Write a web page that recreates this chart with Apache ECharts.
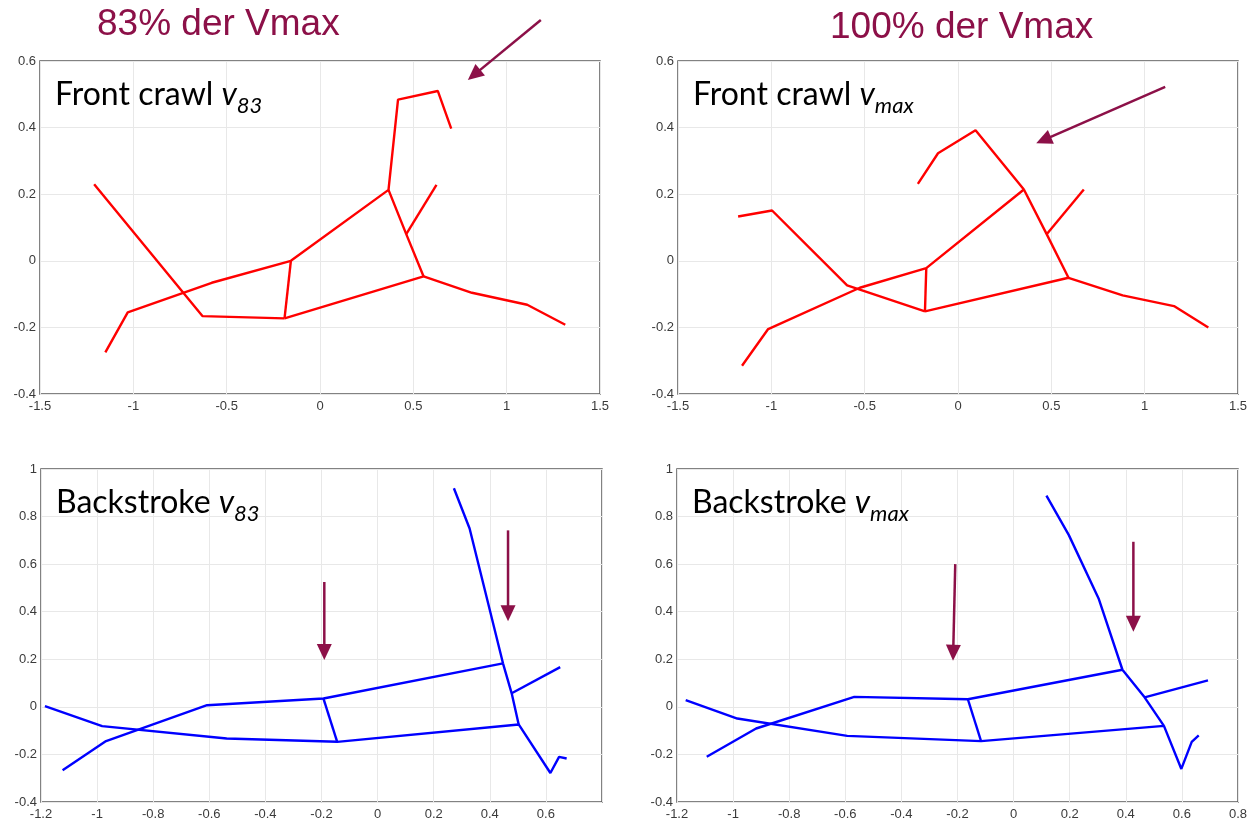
<!DOCTYPE html>
<html><head><meta charset="utf-8">
<script src="https://cdn.jsdelivr.net/npm/echarts@6/dist/echarts.min.js"></script>
<style>html,body{margin:0;padding:0;background:#fff}#c{width:1251px;height:827px}</style>
</head><body><div id="c"></div>
<script>
// ---- text ----
const headings = ['83% der Vmax', '100% der Vmax'];
const panelNames = [['Front crawl ', 'v', '83'], ['Front crawl ', 'v', 'max'], ['Backstroke ', 'v', '83'], ['Backstroke ', 'v', 'max']];

// ---- axis ranges [min, max, interval] ----
const frontX = [-1.5, 1.5, 0.5];
const frontY = [-0.4, 0.6, 0.2];
const backX = [-1.2, 0.8, 0.2];
const backY = [-0.4, 1.0, 0.2];

// ---- stick-figure polylines [x, y] ----
const frontCrawlV83 = [
  [[-1.21, 0.23], [-0.63, -0.166], [-0.19, -0.173]],
  [[-1.15, -0.275], [-1.03, -0.155], [-0.58, -0.066], [-0.156, 0.0], [0.367, 0.213], [0.418, 0.484], [0.631, 0.51], [0.703, 0.397]],
  [[-0.156, 0.0], [-0.19, -0.173]],
  [[-0.19, -0.173], [0.555, -0.047], [0.814, -0.096], [1.11, -0.132], [1.314, -0.192]],
  [[0.367, 0.213], [0.462, 0.08], [0.555, -0.047]],
  [[0.462, 0.08], [0.624, 0.228]]
];
const frontCrawlVmax = [
  [[-1.178, 0.133], [-0.996, 0.151], [-0.594, -0.074], [-0.177, -0.152]],
  [[-1.157, -0.315], [-1.017, -0.205], [-0.526, -0.081], [-0.17, -0.022], [0.353, 0.214], [0.094, 0.392], [-0.107, 0.323], [-0.215, 0.231]],
  [[-0.17, -0.022], [-0.177, -0.152]],
  [[-0.177, -0.152], [0.592, -0.051], [0.882, -0.104], [1.157, -0.136], [1.341, -0.2]],
  [[0.353, 0.214], [0.475, 0.08], [0.592, -0.051]],
  [[0.475, 0.08], [0.674, 0.214]]
];
const backstrokeV83 = [
  [[-1.186, 0.003], [-0.982, -0.081], [-0.538, -0.133], [-0.144, -0.147], [0.503, -0.074], [0.616, -0.278], [0.647, -0.21], [0.674, -0.217]],
  [[-1.123, -0.266], [-0.968, -0.144], [-0.608, 0.007], [-0.193, 0.035], [0.447, 0.183]],
  [[0.272, 0.919], [0.328, 0.75], [0.447, 0.183], [0.478, 0.057], [0.503, -0.074]],
  [[0.478, 0.057], [0.651, 0.167]],
  [[-0.193, 0.035], [-0.144, -0.147]]
];
const backstrokeVmax = [
  [[-1.169, 0.028], [-0.985, -0.049], [-0.593, -0.122], [-0.116, -0.144], [0.536, -0.08], [0.598, -0.261], [0.635, -0.147], [0.66, -0.12]],
  [[-1.094, -0.21], [-0.918, -0.091], [-0.568, 0.042], [-0.163, 0.032], [0.388, 0.156]],
  [[0.117, 0.888], [0.197, 0.722], [0.303, 0.456], [0.388, 0.156], [0.467, 0.04], [0.536, -0.08]],
  [[0.467, 0.04], [0.693, 0.111]],
  [[-0.163, 0.032], [-0.116, -0.144]]
];

// ---- annotation arrows [start, tip] in data units ----
const arrowsFrontV83 = [[[1.183, 0.723], [0.792, 0.543]]];
const arrowsFrontVmax = [[[1.11, 0.522], [0.419, 0.353]]];
const arrowsBackV83 = [[[-0.19, 0.525], [-0.19, 0.197]], [[0.465, 0.742], [0.465, 0.36]]];
const arrowsBackVmax = [[[-0.208, 0.6], [-0.216, 0.194]], [[0.427, 0.694], [0.427, 0.316]]];

const MAGENTA = '#8c1048';
const panels = [
  { lines: frontCrawlV83, color: '#ff0000', x: frontX, y: frontY, arrows: arrowsFrontV83, grid: { left: 40, top: 61, width: 560, height: 333 }, hideMax: false },
  { lines: frontCrawlVmax, color: '#ff0000', x: frontX, y: frontY, arrows: arrowsFrontVmax, grid: { left: 678, top: 61, width: 560, height: 333 }, hideMax: false },
  { lines: backstrokeV83, color: '#0000ff', x: backX, y: backY, arrows: arrowsBackV83, grid: { left: 41, top: 469, width: 561, height: 333 }, hideMax: true },
  { lines: backstrokeVmax, color: '#0000ff', x: backX, y: backY, arrows: arrowsBackVmax, grid: { left: 677, top: 469, width: 561, height: 333 }, hideMax: false }
];

const chart = echarts.init(document.getElementById('c'), null, { renderer: 'canvas' });
const labelStyle = { color: '#3a3a3a', fontSize: 13, fontFamily: 'Liberation Sans, Arial, sans-serif' };
const grids = [], xAxes = [], yAxes = [], series = [];
const firstSeries = [];
panels.forEach((p, i) => {
  grids.push(Object.assign({ show: true, borderColor: '#5a5a5a', borderWidth: 1.5, backgroundColor: '#fff' }, p.grid));
  xAxes.push({
    type: 'value', gridIndex: i, min: p.x[0], max: p.x[1], interval: p.x[2],
    axisLine: { show: false }, axisTick: { show: false },
    splitLine: { show: true, lineStyle: { color: '#e8e8e8', width: 1 } },
    axisLabel: Object.assign({ margin: 6, showMaxLabel: !p.hideMax, showMinLabel: true }, labelStyle)
  });
  yAxes.push({
    type: 'value', gridIndex: i, min: p.y[0], max: p.y[1], interval: p.y[2],
    axisLine: { show: false }, axisTick: { show: false },
    splitLine: { show: true, lineStyle: { color: '#e8e8e8', width: 1 } },
    axisLabel: Object.assign({ margin: 4, showMaxLabel: true, showMinLabel: true }, labelStyle)
  });
  firstSeries.push(series.length);
  p.lines.forEach(line => {
    series.push({
      type: 'line', xAxisIndex: i, yAxisIndex: i, data: line,
      showSymbol: false, symbol: 'none', silent: true, clip: false,
      lineStyle: { color: p.color, width: 2.4 }, itemStyle: { color: p.color }
    });
  });
});

chart.setOption({
  animation: false,
  backgroundColor: '#fff',
  grid: grids, xAxis: xAxes, yAxis: yAxes, series: series
});

function arrowEls(p0, p1) {
  const dx = p1[0] - p0[0], dy = p1[1] - p0[1];
  const L = Math.hypot(dx, dy), ux = dx / L, uy = dy / L;
  const headLen = 16, headW = 7.5;
  const bx = p1[0] - ux * headLen, by = p1[1] - uy * headLen;
  return [
    { type: 'line', silent: true, shape: { x1: p0[0], y1: p0[1], x2: bx + ux * 2, y2: by + uy * 2 }, style: { stroke: MAGENTA, lineWidth: 2.5 } },
    { type: 'polygon', silent: true, shape: { points: [[p1[0], p1[1]], [bx - uy * headW, by + ux * headW], [bx + uy * headW, by - ux * headW]] }, style: { fill: MAGENTA } }
  ];
}

const graphics = [];
// headings
const headingPos = [[97, 25], [830, 28]];
headings.forEach((h, k) => {
  graphics.push({
    type: 'text', silent: true, x: headingPos[k][0], y: headingPos[k][1],
    style: { text: h, font: '37px "Liberation Sans", Arial, sans-serif', fill: MAGENTA, align: 'left', verticalAlign: 'middle', textAlign: 'left', textVerticalAlign: 'middle' }
  });
});
panels.forEach((p, i) => {
  const nm = panelNames[i];
  graphics.push({
    type: 'text', silent: true, x: p.grid.left + 15, y: p.grid.top + 56, z: 50,
    style: {
      text: '{a|' + nm[0] + '}{v|' + nm[1] + '}{s|' + nm[2] + '}',
      verticalAlign: 'bottom', textVerticalAlign: 'bottom', align: 'left',
      rich: {
        a: { fontFamily: 'Lato', fontSize: 32, fill: '#000', lineHeight: 37, padding: [0, 0, 6, 0], verticalAlign: 'bottom' },
        v: { fontFamily: 'Lato', fontSize: 32, fontStyle: 'italic', fill: '#000', lineHeight: 37, padding: [0, 0, 6, 0], verticalAlign: 'bottom' },
        s: { fontFamily: 'Lato', fontSize: 22, fontStyle: 'italic', fill: '#000', lineHeight: 25, padding: [0, 0, 0, 0], verticalAlign: 'bottom' }
      }
    }
  });
  p.arrows.forEach(a => {
    const s = chart.convertToPixel({ seriesIndex: firstSeries[i] }, a[0]);
    const t = chart.convertToPixel({ seriesIndex: firstSeries[i] }, a[1]);
    arrowEls(s, t).forEach(e => { e.z = 60; graphics.push(e); });
  });
});
chart.setOption({ graphic: graphics });
</script>
</body></html>
